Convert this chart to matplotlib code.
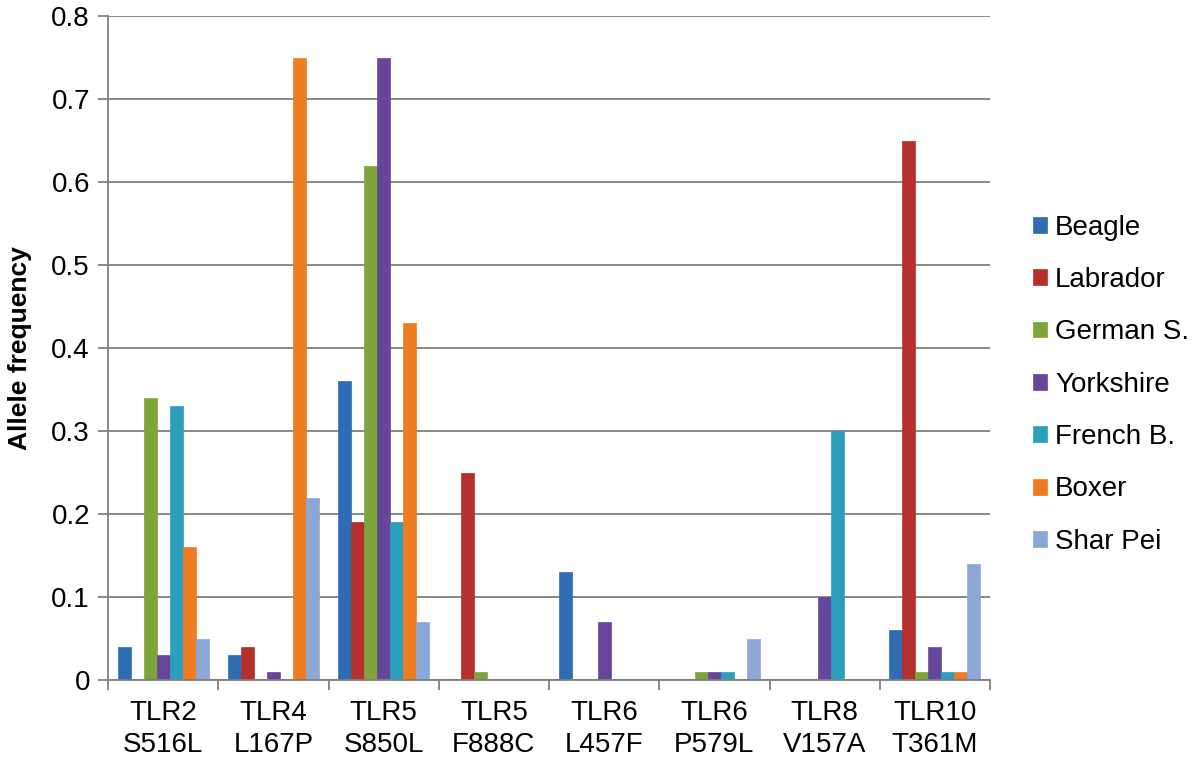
import numpy as np
import matplotlib
matplotlib.use("Agg")
import matplotlib.pyplot as plt

plt.rcParams["font.family"] = ["Liberation Sans", "DejaVu Sans"]

groups = ["TLR2\nS516L", "TLR4\nL167P", "TLR5\nS850L", "TLR5\nF888C",
          "TLR6\nL457F", "TLR6\nP579L", "TLR8\nV157A", "TLR10\nT361M"]
breeds = ["Beagle", "Labrador", "German S.", "Yorkshire", "French B.", "Boxer", "Shar Pei"]

beagle = [0.04, 0.03, 0.36, 0.00, 0.13, 0.00, 0.00, 0.06]
labrador = [0.00, 0.04, 0.19, 0.25, 0.00, 0.00, 0.00, 0.65]
german = [0.34, 0.00, 0.62, 0.01, 0.00, 0.01, 0.00, 0.01]
yorkshire = [0.03, 0.01, 0.75, 0.00, 0.07, 0.01, 0.10, 0.04]
french = [0.33, 0.00, 0.19, 0.00, 0.00, 0.01, 0.30, 0.01]
boxer = [0.16, 0.75, 0.43, 0.00, 0.00, 0.00, 0.00, 0.01]
sharpei = [0.05, 0.22, 0.07, 0.00, 0.00, 0.05, 0.00, 0.14]

series = [beagle, labrador, german, yorkshire, french, boxer, sharpei]
colors = ["#2e6cb4", "#b52f2c", "#7ea43a", "#66469a", "#2b9fbb", "#ee7d22", "#8aa7d8"]

fig = plt.figure(figsize=(12, 7.66), dpi=100)
ax = fig.add_axes([0.09, 0.112, 0.735, 0.867])

x = np.arange(len(groups))
width = 0.118
for i, (vals, name, c) in enumerate(zip(series, breeds, colors)):
    offs = (i - 3) * width
    ax.bar(x + offs, vals, width, color=c, label=name, edgecolor=c, linewidth=0.5)

ax.set_xlim(-0.5, len(groups) - 0.5)
ax.set_ylim(0, 0.8)
ax.set_yticks(np.arange(0, 0.81, 0.1))
ax.set_yticklabels(["0"] + [f"{v:.1f}" for v in np.arange(0.1, 0.81, 0.1)])
ax.yaxis.grid(True, color="#7f7f7f", linewidth=1.3)
ax.set_axisbelow(True)

ax.set_xticks(x)
ax.set_xticklabels(groups, linespacing=1.3)
ax.set_xticks(np.arange(-0.5, len(groups), 1), minor=True)
ax.tick_params(axis="x", which="major", length=0, pad=14, labelsize=20)
ax.tick_params(axis="x", which="minor", length=7, color="#7f7f7f", width=1.3)
ax.tick_params(axis="y", length=7, color="#7f7f7f", width=1.3, labelsize=20, pad=6)

for s in ["top", "right"]:
    ax.spines[s].set_visible(False)
for s in ["left", "bottom"]:
    ax.spines[s].set_color("#7f7f7f")
    ax.spines[s].set_linewidth(1.3)

ax.set_ylabel("Allele frequency", fontsize=19, fontweight="bold", labelpad=14)

ax.legend(loc="center left", bbox_to_anchor=(1.02, 0.445), frameon=False,
          fontsize=20, handlelength=0.5, handleheight=0.5, handletextpad=0.3,
          labelspacing=0.95)

fig.savefig("out.png", dpi=100)
